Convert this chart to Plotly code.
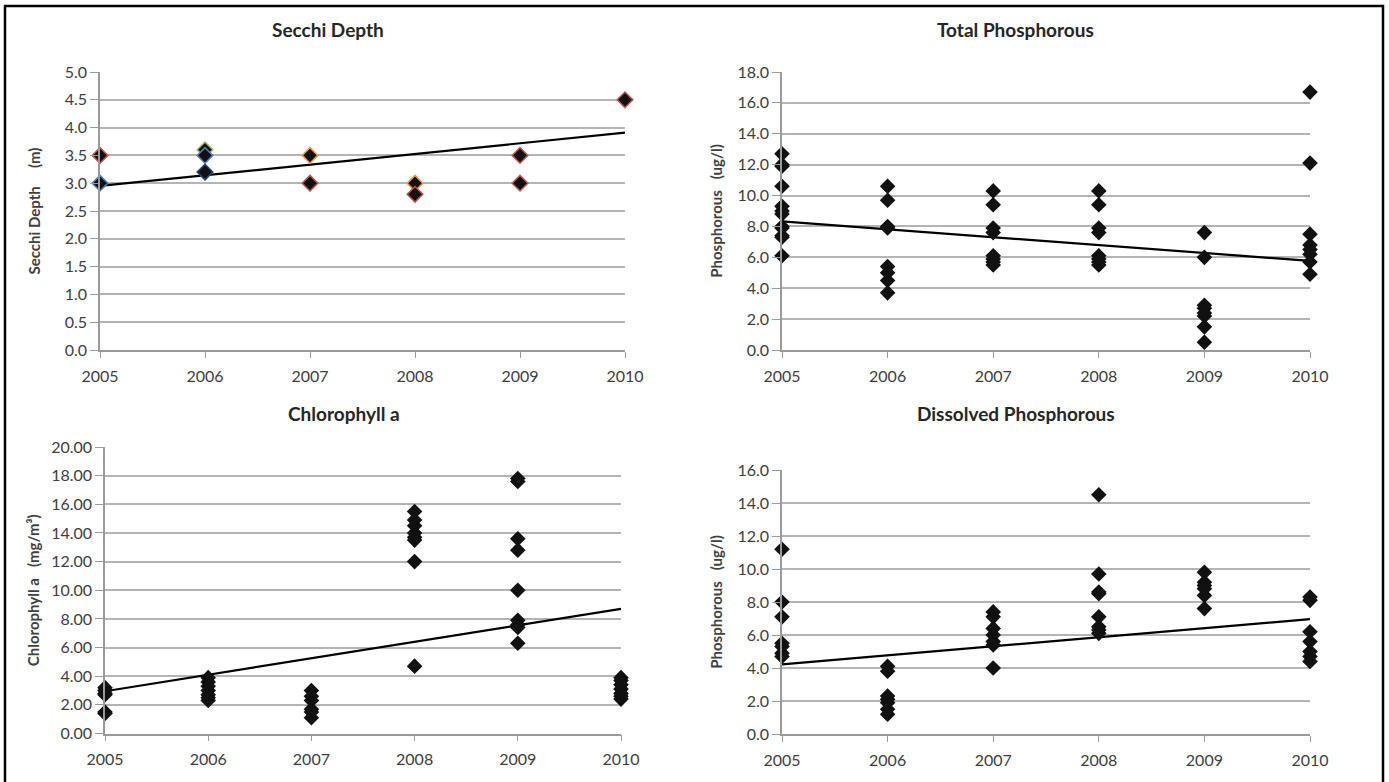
import plotly.graph_objects as go

years = [2005, 2006, 2007, 2008, 2009, 2010]

# Secchi Depth (m)
secchi_x = [2005, 2005, 2006, 2006, 2006, 2007, 2007, 2008, 2008, 2009, 2009, 2010]
secchi_y = [3.5, 3.0, 3.6, 3.5, 3.2, 3.5, 3.0, 3.0, 2.8, 3.5, 3.0, 4.5]
secchi_edge = ["#c0504d", "#4f81bd", "#9bbb59", "#4f81bd", "#1f497d", "#f79646",
               "#c0504d", "#f79646", "#c0504d", "#c0504d", "#c0504d", "#c0504d"]
secchi_trend = [2.95, 3.91]

# Total Phosphorous (ug/l)
tp = {
    2005: [12.7, 12.0, 11.9, 10.6, 9.3, 9.0, 8.8, 8.0, 7.9, 7.4, 7.3, 6.1],
    2006: [10.6, 9.7, 8.0, 7.9, 5.4, 5.0, 4.5, 3.7],
    2007: [10.3, 9.4, 7.9, 7.6, 6.1, 5.9, 5.7, 5.5],
    2008: [10.3, 9.4, 7.9, 7.6, 6.1, 5.9, 5.7, 5.5],
    2009: [7.6, 6.0, 2.9, 2.7, 2.4, 2.2, 1.5, 0.5],
    2010: [16.7, 12.1, 7.5, 6.8, 6.5, 6.2, 5.7, 4.9],
}
tp_trend = [8.33, 5.77]

# Chlorophyll a (mg/m3)
chl = {
    2005: [3.2, 3.0, 2.8, 2.7, 1.5, 1.4],
    2006: [3.9, 3.6, 3.3, 3.0, 2.7, 2.5, 2.3],
    2007: [3.0, 2.6, 2.3, 1.7, 1.5, 1.1],
    2008: [15.5, 14.9, 14.5, 14.0, 13.7, 13.5, 12.0, 4.7],
    2009: [17.8, 17.6, 13.6, 12.8, 10.0, 7.9, 7.6, 7.4, 6.3],
    2010: [3.9, 3.7, 3.4, 3.1, 2.8, 2.6, 2.4],
}
chl_trend = [2.95, 8.7]

# Dissolved Phosphorous (ug/l)
dp = {
    2005: [11.2, 8.0, 7.1, 5.5, 5.3, 4.9, 4.7],
    2006: [4.1, 3.8, 2.3, 2.1, 1.9, 1.5, 1.2],
    2007: [7.4, 7.1, 6.4, 6.0, 5.6, 5.4, 4.0],
    2008: [14.5, 9.7, 8.6, 8.5, 7.1, 6.5, 6.3, 6.1],
    2009: [9.8, 9.2, 9.0, 8.8, 8.4, 7.6],
    2010: [8.3, 8.1, 6.2, 5.6, 5.0, 4.7, 4.4],
}
dp_trend = [4.22, 6.96]

W, H = 1389, 782
FONT = "Lato"
TICKC = "#404040"


def flatten(d):
    xs, ys = [], []
    for yr, vals in d.items():
        xs += [yr] * len(vals)
        ys += vals
    return xs, ys


fig = go.Figure()


def add_panel(idx, xs, ys, trend, edge=None):
    xa = "x" if idx == 1 else f"x{idx}"
    ya = "y" if idx == 1 else f"y{idx}"
    fig.add_trace(go.Scatter(
        x=[years[0], years[-1]], y=trend, mode="lines",
        line=dict(color="black", width=2.2), xaxis=xa, yaxis=ya,
        showlegend=False, hoverinfo="skip", cliponaxis=False))
    fig.add_trace(go.Scatter(
        x=xs, y=ys, mode="markers", xaxis=xa, yaxis=ya, showlegend=False,
        cliponaxis=False,
        marker=dict(symbol="diamond", size=12, color="#111111",
                    line=dict(color=edge if edge else "#111111", width=1.5 if edge else 0))))


add_panel(1, secchi_x, secchi_y, secchi_trend, secchi_edge)
add_panel(2, *flatten(tp), tp_trend)
add_panel(3, *flatten(chl), chl_trend)
add_panel(4, *flatten(dp), dp_trend)


def px_x(p):
    return p / W


def px_y(p):
    return 1 - p / H


panels = {
    1: dict(x=(100, 625), y=(350, 72), rng=(0, 5), dtick=0.5, fmt=".1f", so=20,
            title="Secchi Depth\u00a0\u00a0\u00a0\u00a0\u00a0(m)"),
    2: dict(x=(782, 1310), y=(350, 72), rng=(0, 18), dtick=2, fmt=".1f", so=11,
            title="Phosphorous\u00a0\u00a0\u00a0(ug/l)"),
    3: dict(x=(105, 621), y=(733.5, 447), rng=(0, 20), dtick=2, fmt=".2f", so=8,
            title="Chlorophyll a\u00a0\u00a0\u00a0(mg/m³)"),
    4: dict(x=(782, 1310), y=(734, 470), rng=(0, 16), dtick=2, fmt=".1f", so=11,
            title="Phosphorous\u00a0\u00a0\u00a0(ug/l)"),
}

layout = dict(
    width=W, height=H, margin=dict(l=0, r=0, t=0, b=0, autoexpand=False),
    paper_bgcolor="white", plot_bgcolor="white",
    font=dict(family=FONT, color=TICKC),
)

for i, p in panels.items():
    xk = "xaxis" if i == 1 else f"xaxis{i}"
    yk = "yaxis" if i == 1 else f"yaxis{i}"
    ya = "y" if i == 1 else f"y{i}"
    xa = "x" if i == 1 else f"x{i}"
    layout[xk] = dict(
        domain=[px_x(p["x"][0]), px_x(p["x"][1])], anchor=ya,
        range=[2005, 2010], tickvals=years, ticktext=[str(y) for y in years],
        ticks="outside", ticklen=6, tickcolor="#9a9a9a", showline=True,
        linecolor="#9a9a9a", linewidth=1.5, showgrid=False, zeroline=False,
        automargin=False, ticklabelstandoff=5,
        tickfont=dict(size=16, color=TICKC, family=FONT), fixedrange=True)
    layout[yk] = dict(
        domain=[px_y(p["y"][0]), px_y(p["y"][1])], anchor=xa,
        range=list(p["rng"]), dtick=p["dtick"], tick0=0, tickformat=p["fmt"],
        ticks="outside", ticklen=8, tickcolor="#9a9a9a", showline=True,
        linecolor="#9a9a9a", linewidth=1.5, showgrid=True, gridcolor="#b4b4b4",
        gridwidth=1.5, zeroline=False, automargin=False,
        tickfont=dict(size=16, color=TICKC, family=FONT),
        title=dict(text="<b>" + p["title"] + "</b>", standoff=p["so"],
                   font=dict(size=15, color=TICKC, family=FONT)),
        fixedrange=True)

fig.update_layout(**layout)

titles = [("Secchi Depth", 328, 30), ("Total Phosphorous", 1015, 30),
          ("Chlorophyll a", 344, 413), ("Dissolved Phosphorous", 1016, 413)]
for txt, cx, cy in titles:
    fig.add_annotation(text="<b>" + txt + "</b>", x=px_x(cx), y=px_y(cy),
                       xref="paper", yref="paper", showarrow=False,
                       xanchor="center", yanchor="middle",
                       font=dict(size=19, color="#262626", family=FONT))

# outer frame
fig.add_shape(type="path", xref="paper", yref="paper",
              path=f"M {px_x(5)},{px_y(800)} L {px_x(5)},{px_y(6)} L {px_x(1383)},{px_y(6)} L {px_x(1383)},{px_y(800)}",
              line=dict(color="black", width=2.5))

fig.write_html("out.html")
